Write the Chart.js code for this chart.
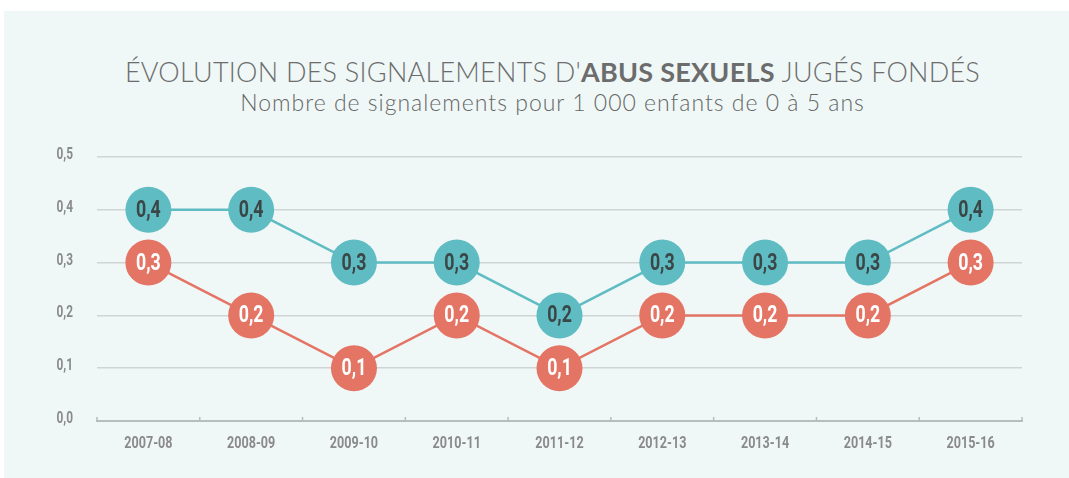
<!DOCTYPE html>
<html>
<head>
<meta charset="utf-8">
<script src="https://cdn.jsdelivr.net/npm/chart.js@4"></script>
<style>
  html, body { margin: 0; padding: 0; background: #fff; }
  #wrap { position: relative; width: 1069px; height: 478px; overflow: hidden; }
  #panel { position: absolute; left: 4px; top: 11px; right: 0; bottom: 0; background: #eff8f7; }
  #title { position: absolute; left: 36px; right: 0; top: 55px; text-align: center; letter-spacing: 0.25px;
    font-family: Lato, "Open Sans", sans-serif; font-weight: 300; font-size: 27px; color: #6c6c6c; }
  #title b { font-weight: 700; }
  #subtitle { position: absolute; left: 36px; right: 0; top: 88px; text-align: center; letter-spacing: 1px;
    font-family: Lato, "Open Sans", sans-serif; font-weight: 300; font-size: 23px; color: #666; }
  #chartBox { position: absolute; left: 0; top: 0; width: 1069px; height: 478px; }
</style>
</head>
<body>
<div id="wrap">
  <div id="panel"></div>
  <div id="title">ÉVOLUTION DES SIGNALEMENTS D'<b>ABUS SEXUELS</b> JUGÉS FONDÉS</div>
  <div id="subtitle">Nombre de signalements pour 1 000 enfants de 0 à 5 ans</div>
  <div id="chartBox"><canvas id="chart"></canvas></div>
</div>
<script>
// categories and series
const years = ["2007-08", "2008-09", "2009-10", "2010-11", "2011-12", "2012-13", "2013-14", "2014-15", "2015-16"];
const tealValues = [0.4, 0.4, 0.3, 0.3, 0.2, 0.3, 0.3, 0.3, 0.4];
const redValues = [0.3, 0.2, 0.1, 0.2, 0.1, 0.2, 0.2, 0.2, 0.3];
const yTicks = [0, 0.1, 0.2, 0.3, 0.4, 0.5];

const teal = "#5fbcc3";
const red = "#e47464";
const font = 'Roboto, "Noto Sans", sans-serif';
const squeeze = 0.74; // condensed look

const fmt = v => v.toFixed(1).replace(".", ",");

function narrowText(ctx, text, x, y) {
  ctx.save();
  ctx.translate(x, y);
  ctx.scale(squeeze, 1);
  ctx.fillText(text, 0, 0);
  ctx.restore();
}

// labels inside the circles + condensed tick labels + inward x ticks
const condensedText = {
  id: "condensedText",
  afterDatasetsDraw(chart) {
    const ctx = chart.ctx;
    const xs = chart.scales.x;
    const ys = chart.scales.y;
    const area = chart.chartArea;

    // small tick marks between categories, pointing up
    ctx.save();
    ctx.strokeStyle = "#b9bcbc";
    ctx.lineWidth = 1.5;
    ctx.beginPath();
    for (let i = 0; i <= years.length; i++) {
      let x;
      if (i === 0) x = area.left;
      else if (i === years.length) x = area.right;
      else x = (xs.getPixelForTick(i - 1) + xs.getPixelForTick(i)) / 2;
      ctx.moveTo(x, area.bottom);
      ctx.lineTo(x, area.bottom - 4);
    }
    ctx.stroke();
    ctx.restore();

    ctx.save();
    ctx.textAlign = "center";
    ctx.textBaseline = "middle";
    ctx.font = "bold 24px " + font;
    chart.data.datasets.forEach((ds, i) => {
      const meta = chart.getDatasetMeta(i);
      meta.data.forEach((pt, j) => {
        ctx.fillStyle = ds.labelColor;
        narrowText(ctx, fmt(ds.data[j]), pt.x, pt.y + 1);
      });
    });

    ctx.fillStyle = "#8a8a8a";
    ctx.font = "bold 17px " + font;
    xs.ticks.forEach((t, i) => {
      narrowText(ctx, years[i], xs.getPixelForTick(i), area.bottom + 23);
    });
    ctx.textAlign = "right";
    ctx.font = "bold 16px " + font;
    ys.ticks.forEach((t, i) => {
      narrowText(ctx, fmt(t.value), area.left - 24, ys.getPixelForTick(i) - 2);
    });
    ctx.restore();
  }
};

new Chart(document.getElementById("chart"), {
  type: "line",
  data: {
    labels: years,
    datasets: [
      {
        label: "teal",
        data: tealValues,
        borderColor: teal,
        backgroundColor: teal,
        borderWidth: 2.5,
        pointRadius: 23,
        pointHoverRadius: 23,
        pointBorderWidth: 0,
        labelColor: "#3b4646",
        clip: false
      },
      {
        label: "red",
        data: redValues,
        borderColor: red,
        backgroundColor: red,
        borderWidth: 2.5,
        pointRadius: 23,
        pointHoverRadius: 23,
        pointBorderWidth: 0,
        labelColor: "#ffffff",
        clip: false
      }
    ]
  },
  options: {
    responsive: true,
    maintainAspectRatio: false,
    animation: false,
    layout: { padding: { top: 157, right: 47, bottom: 17, left: 0 } },
    plugins: {
      legend: { display: false },
      tooltip: { enabled: false }
    },
    scales: {
      x: {
        offset: true,
        grid: { offset: true, drawOnChartArea: false, drawTicks: false },
        border: { color: "#b9bcbc", width: 2 },
        ticks: { color: "rgba(0,0,0,0)", font: { family: font, size: 14, weight: "bold" }, padding: 8, maxRotation: 0 },
        afterFit: s => { s.height = 40; }
      },
      y: {
        min: 0,
        max: 0.5,
        afterBuildTicks: s => { s.ticks = yTicks.map(v => ({ value: v })); },
        grid: { color: "#cfd4d4", lineWidth: 1.5, drawTicks: false },
        border: { display: false },
        ticks: { color: "rgba(0,0,0,0)", font: { family: font, size: 14, weight: "bold" }, padding: 24, callback: v => fmt(v) },
        afterFit: s => { s.width = 97; }
      }
    }
  },
  plugins: [condensedText]
});
</script>
</body>
</html>
